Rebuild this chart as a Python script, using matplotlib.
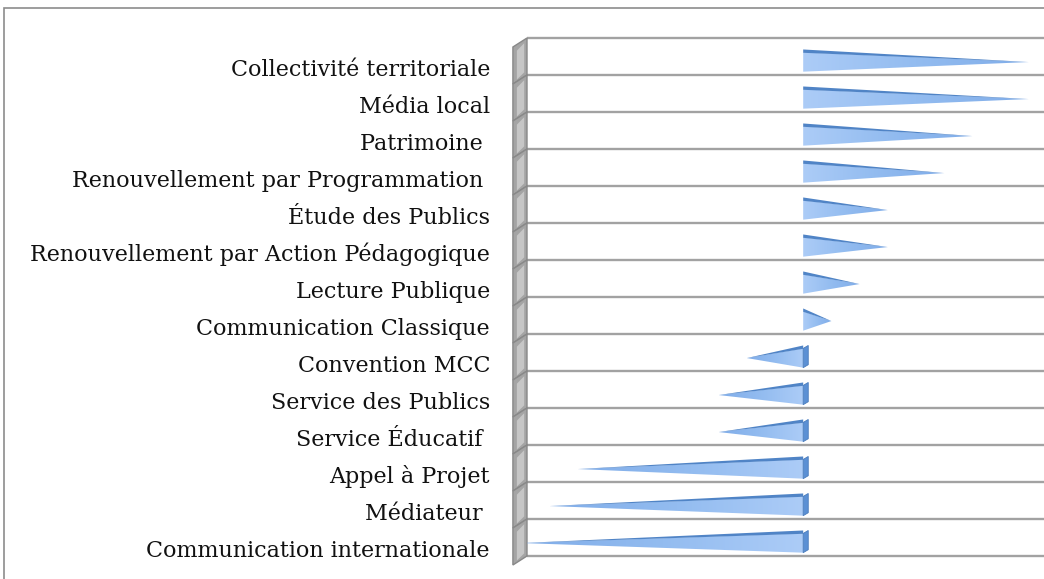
import numpy as np
import matplotlib.pyplot as plt
from matplotlib.patches import Polygon, Rectangle
from matplotlib.colors import LinearSegmentedColormap

categories = [
    "Collectivité territoriale",
    "Média local",
    "Patrimoine ",
    "Renouvellement par Programmation ",
    "Étude des Publics",
    "Renouvellement par Action Pédagogique",
    "Lecture Publique",
    "Communication Classique",
    "Convention MCC",
    "Service des Publics",
    "Service Éducatif ",
    "Appel à Projet",
    "Médiateur ",
    "Communication internationale",
]
values = [8, 8, 6, 5, 3, 3, 2, 1, -2, -3, -3, -8, -9, -10]

W, H = 1044, 579
fig = plt.figure(figsize=(W / 100, H / 100), dpi=100)
ax = fig.add_axes([527 / W, 23 / H, 558 / W, 518 / H])
xmin, xmax = -9.8, 10
n = len(categories)
ax.axis("off")

# horizontal gridlines (back wall)
ax.hlines(np.arange(n + 1), xmin, xmax, color="#a2a2a2", lw=1.7, clip_on=False, zorder=1)

# left side wall in 3D look
dx, dy = 0.5, 0.243
for k in range(n):
    panel = Polygon([(xmin, k), (xmin - dx, k + dy), (xmin - dx, k + 1 + dy), (xmin, k + 1)],
                    closed=True, facecolor="#a4a4a4", edgecolor="#888888", lw=1.0,
                    clip_on=False, zorder=3)
    ax.add_patch(panel)
    inner = Polygon([(xmin - 0.1, k + 0.14), (xmin - dx + 0.14, k + dy + 0.1),
                     (xmin - dx + 0.14, k + 1 + dy - 0.12), (xmin - 0.1, k + 0.93)],
                    closed=True, facecolor="#c6c6c6", edgecolor="none", clip_on=False, zorder=3)
    ax.add_patch(inner)

# cone-like bars
cmap = LinearSegmentedColormap.from_list("blu", ["#acccf7", "#93bcf0", "#80ade9"])
grad = np.linspace(0, 1, 200).reshape(1, -1)
h = 0.52
for i, v in enumerate(values):
    c = i + 0.5 + 0.15
    top, bot = c - h / 2, c + h / 2
    body = Polygon([(0, top), (0, bot), (v, c)], closed=True, facecolor="none", edgecolor="none")
    ax.add_patch(body)
    im = ax.imshow(grad, cmap=cmap, extent=(0, v, bot, top), aspect="auto", zorder=4)
    im.set_clip_path(body)
    ax.add_patch(Polygon([(0, top - 0.08), (v, c), (0, top + 0.01)], closed=True,
                         facecolor="#5084c6", edgecolor="none", zorder=5))
    if v < 0:
        ax.add_patch(Polygon([(0, top), (0.18, top - 0.08), (0.18, bot - 0.08), (0, bot)],
                             closed=True, facecolor="#5b90d4", edgecolor="#4a7cbc", lw=0.6, zorder=5))

# category labels
for i, name in enumerate(categories):
    ax.text(-37 / 558, i + 1.04, name, transform=ax.get_yaxis_transform(),
            ha="right", va="baseline", fontsize=16, family="DejaVu Serif", color="#111111")

ax.set_xlim(xmin, xmax)
ax.set_ylim(n, 0)

# outer chart frame (continues past the image edge)
fig.add_artist(Rectangle((3.5 / W, -0.5), 2, (1 - 7.5 / H) + 0.5, transform=fig.transFigure,
                         fill=False, edgecolor="#8c8c8c", lw=1.2))

fig.savefig("out.png", dpi=100)
